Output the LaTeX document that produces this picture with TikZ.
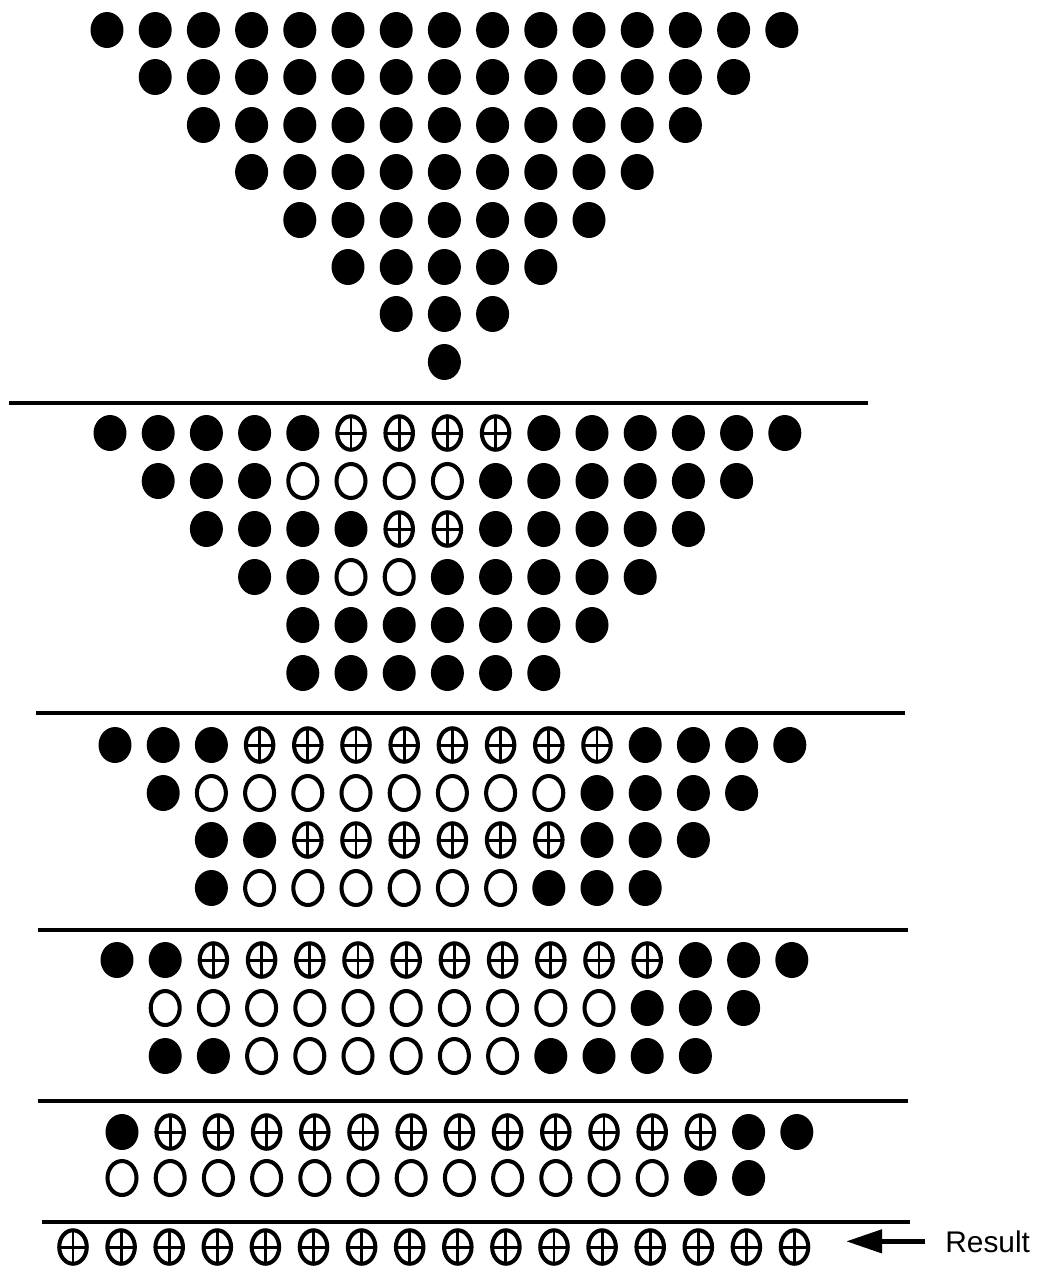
\documentclass[tikz,border=0pt]{standalone}
\usepackage{fontspec}
\setmainfont{Liberation Sans}
\usetikzlibrary{shapes.geometric,arrows.meta}

\tikzset{
  bit/.style={ellipse, inner sep=0pt, outer sep=0pt},
  bit b/.style={bit, fill=black, minimum width=0.66cm, minimum height=0.72cm},
  bit o/.style={bit, draw, line width=2.3pt, minimum width=0.58cm, minimum height=0.68cm},
  bit x/.style={bit o, minimum width=0.55cm, minimum height=0.67cm, path picture={\draw[line width=1.7pt]
      (path picture bounding box.north) -- (path picture bounding box.south)
      (path picture bounding box.west) -- (path picture bounding box.east);}},
  rule/.style={line width=1.8pt},
}

\begin{document}
\begin{tikzpicture}[x=0.02cm, y=-0.02cm]
\useasboundingbox (0,0) rectangle (1038,1272);

\foreach \xo/\y/\s/\row [count=\r] in {
  107/30/0/{b,b,b,b,b,b,b,b,b,b,b,b,b,b,b},
  107/77/1/{b,b,b,b,b,b,b,b,b,b,b,b,b},
  107/125/2/{b,b,b,b,b,b,b,b,b,b,b},
  107/172/3/{b,b,b,b,b,b,b,b,b},
  107/220/4/{b,b,b,b,b,b,b},
  107/267/5/{b,b,b,b,b},
  107/314/6/{b,b,b},
  107/362/7/{b},
  110/433/0/{b,b,b,b,b,x,x,x,x,b,b,b,b,b,b},
  110/481/1/{b,b,b,o,o,o,o,b,b,b,b,b,b},
  110/529/2/{b,b,b,b,x,x,b,b,b,b,b},
  110/577/3/{b,b,o,o,b,b,b,b,b},
  110/625/4/{b,b,b,b,b,b,b},
  110/673/4/{b,b,b,b,b,b},
  115/745/0/{b,b,b,x,x,x,x,x,x,x,x,b,b,b,b},
  115/793/1/{b,o,o,o,o,o,o,o,o,b,b,b,b},
  115/840/2/{b,b,x,x,x,x,x,x,b,b,b},
  115/888/2/{b,o,o,o,o,o,o,b,b,b},
  117/960/0/{b,b,x,x,x,x,x,x,x,x,x,x,b,b,b},
  117/1008/1/{o,o,o,o,o,o,o,o,o,o,b,b,b},
  117/1056/1/{b,b,o,o,o,o,o,o,b,b,b,b},
  122/1132/0/{b,x,x,x,x,x,x,x,x,x,x,x,x,b,b},
  122/1178/0/{o,o,o,o,o,o,o,o,o,o,o,o,b,b}}{
  \foreach \k [count=\c from \s] in \row
    \node[bit \k] (n\r-\c) at ({\xo+48.2*\c},\y) {};
}

\foreach \y/\a/\b in {403/9/868, 713/36/905, 930/38/908, 1101/38/908, 1222/42/910}
  \draw[rule] (\a,\y) -- (\b,\y);

\foreach \c in {0,...,15}
  \node[bit x] (res\c) at ({73+48.1*\c},1247) {};

\node[anchor=base west, inner sep=0pt, font=\fontsize{17}{17}\selectfont] (result) at (945,1252) {Result};
\draw[line width=2.8pt, -{Triangle[length=0.72cm,width=0.46cm]}, shorten <=0.4cm, shorten >=0.76cm]
  (result.west) -- (result.west -| res15.east);
\end{tikzpicture}
\end{document}
